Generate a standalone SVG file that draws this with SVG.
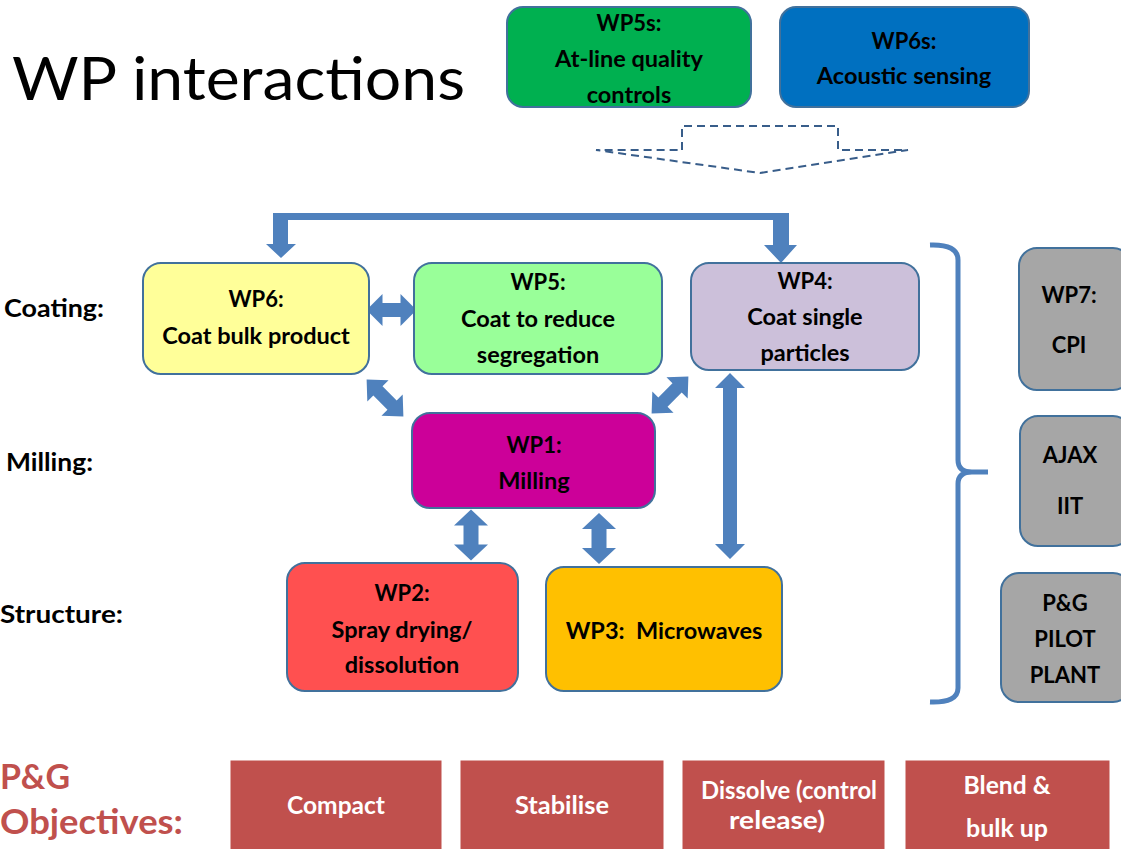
<svg xmlns="http://www.w3.org/2000/svg" width="1121" height="849" viewBox="0 0 1121 849">
<style>
.box{stroke:#41719C;stroke-width:2}
.t{font-family:Lato,"Liberation Sans",sans-serif;font-weight:bold;font-size:22px;fill:#000;text-anchor:middle}
.t2{font-family:Lato,"Liberation Sans",sans-serif;font-weight:bold;font-size:23.5px;fill:#000;text-anchor:middle}
.lbl{font-family:Lato,"Liberation Sans",sans-serif;font-weight:bold;font-size:25px;fill:#000}
.obj{fill:#C0504D;stroke:#C0504D}
.ot{font-family:Lato,"Liberation Sans",sans-serif;font-weight:bold;font-size:24px;fill:#fff;text-anchor:middle}
.arr{fill:#4F81BD}
</style>
<defs>
<path id="dbl50" d="M-25,0 L-9,-16 L-9,-7 L9,-7 L9,-16 L25,0 L9,16 L9,7 L-9,7 L-9,16 Z"/>
<path id="dbl52" d="M-26,0 L-10,-15 L-10,-6.5 L10,-6.5 L10,-15 L26,0 L10,15 L10,6.5 L-10,6.5 L-10,15 Z"/>
<path id="dblv" d="M-25.5,0 L-9.5,-17 L-9.5,-7.5 L9.5,-7.5 L9.5,-17 L25.5,0 L9.5,17 L9.5,7.5 L-9.5,7.5 L-9.5,17 Z"/>
</defs>
<rect width="1121" height="849" fill="#fff"/>

<text x="12" y="100" font-family="Lato,'Liberation Sans',sans-serif" font-size="60" textLength="453" lengthAdjust="spacingAndGlyphs" fill="#000">WP interactions</text>

<g id="wp5s">
<rect class="box" x="507" y="7" width="244" height="100" rx="16" fill="#00B050"/>
<text class="t" x="629" y="31" font-size="20.5">WP5s:</text>
<text class="t2" x="629" y="67" font-size="22.6">At-line quality</text>
<text class="t2" x="629" y="103" font-size="22.6">controls</text>
</g>
<g id="wp6s">
<rect class="box" x="780" y="7" width="249" height="100" rx="16" fill="#0070C0"/>
<text class="t" x="904" y="49" font-size="20.5">WP6s:</text>
<text class="t2" x="904" y="84" font-size="22.6">Acoustic sensing</text>
</g>

<g id="connectors">
<path d="M682,150 V126 H838 V150 H908 L760,173 L596,150 Z" fill="none" stroke="#385D8A" stroke-width="2" stroke-dasharray="8,5"/>
<path class="arr" d="M281,258 L266,244 L273,244 L273,213 L789,213 L789,245 L797,245 L781,263 L764,245 L773,245 L773,220 L288,220 L288,244 L296,244 Z"/>
<use href="#dbl50" class="arr" transform="translate(391.5,310)"/>
<use href="#dbl52" class="arr" transform="translate(385,398) rotate(45)"/>
<use href="#dbl52" class="arr" transform="translate(670,395) rotate(-45)"/>
<use href="#dblv" class="arr" transform="translate(471,535) rotate(90)"/>
<use href="#dblv" class="arr" transform="translate(599,538.5) rotate(90)"/>
<path class="arr" d="M730,373 L745,388 L737,388 L737,544 L745,544 L730,559 L715,544 L723,544 L723,388 L715,388 Z"/>
<path d="M930,245 Q958,244 958,260 V460 Q958,472 972,472 H988 M972,472 Q958,472 958,484 V688 Q958,703 930,702" fill="none" stroke="#4F81BD" stroke-width="5"/>
</g>

<g id="wp6">
<rect class="box" x="143" y="263" width="226" height="111" rx="18" fill="#FFFF99"/>
<text class="t" x="256" y="307">WP6:</text>
<text class="t2" x="256" y="344">Coat bulk product</text>
</g>
<g id="wp5">
<rect class="box" x="414" y="263" width="248" height="111" rx="18" fill="#99FF99"/>
<text class="t" x="538" y="290">WP5:</text>
<text class="t2" x="538" y="327">Coat to reduce</text>
<text class="t2" x="538" y="363">segregation</text>
</g>
<g id="wp4">
<rect class="box" x="691" y="263" width="228" height="107" rx="18" fill="#CCC0DA"/>
<text class="t" x="805" y="289">WP4:</text>
<text class="t2" x="805" y="325">Coat single</text>
<text class="t2" x="805" y="361">particles</text>
</g>
<g id="wp1">
<rect class="box" x="412" y="413" width="243" height="95" rx="18" fill="#CC0099"/>
<text class="t" x="534" y="453">WP1:</text>
<text class="t2" x="534" y="489">Milling</text>
</g>
<g id="wp2">
<rect class="box" x="287" y="563" width="231" height="128" rx="18" fill="#FF5050"/>
<text class="t" x="402" y="601">WP2:</text>
<text class="t2" x="402" y="638">Spray drying/</text>
<text class="t2" x="402" y="673">dissolution</text>
</g>
<g id="wp3">
<rect class="box" x="546" y="567" width="236" height="124" rx="18" fill="#FFC000"/>
<text class="t2" x="664" y="639" xml:space="preserve">WP3:  Microwaves</text>
</g>
<g id="wp7">
<rect class="box" x="1019" y="248" width="112" height="142" rx="18" fill="#A6A6A6"/>
<text class="t" x="1069" y="303">WP7:</text>
<text class="t" x="1069" y="353">CPI</text>
</g>
<g id="ajax">
<rect class="box" x="1020" y="416" width="111" height="130" rx="18" fill="#A6A6A6"/>
<text class="t" x="1070" y="463">AJAX</text>
<text class="t" x="1070" y="514">IIT</text>
</g>
<g id="pilot">
<rect class="box" x="1001" y="573" width="130" height="129" rx="18" fill="#A6A6A6"/>
<text class="t" x="1065" y="611">P&amp;G</text>
<text class="t" x="1065" y="647">PILOT</text>
<text class="t" x="1065" y="683">PLANT</text>
</g>

<g id="rowlabels">
<text class="lbl" x="4" y="317" textLength="100" lengthAdjust="spacingAndGlyphs">Coating:</text>
<text class="lbl" x="6" y="471" textLength="87" lengthAdjust="spacingAndGlyphs">Milling:</text>
<text class="lbl" x="0" y="623" textLength="123" lengthAdjust="spacingAndGlyphs">Structure:</text>
</g>

<g id="objectives">
<text x="0" y="789" font-family="Lato,'Liberation Sans',sans-serif" font-weight="bold" font-size="34" fill="#C0504D" textLength="70" lengthAdjust="spacingAndGlyphs">P&amp;G</text>
<text x="0" y="834" font-family="Lato,'Liberation Sans',sans-serif" font-weight="bold" font-size="34" fill="#C0504D" textLength="183" lengthAdjust="spacingAndGlyphs">Objectives:</text>
</g>
<g id="compact">
<rect class="obj" x="231" y="761" width="210" height="92"/>
<text class="ot" x="336" y="814" textLength="98" lengthAdjust="spacingAndGlyphs">Compact</text>
</g>
<g id="stabilise">
<rect class="obj" x="461" y="761" width="202" height="92"/>
<text class="ot" x="562" y="814" textLength="94" lengthAdjust="spacingAndGlyphs">Stabilise</text>
</g>
<g id="dissolve">
<rect class="obj" x="683" y="761" width="201" height="92"/>
<text class="ot" x="789" y="799" textLength="176" lengthAdjust="spacingAndGlyphs">Dissolve (control</text>
<text class="ot" x="777" y="829" textLength="96" lengthAdjust="spacingAndGlyphs">release)</text>
</g>
<g id="blend">
<rect class="obj" x="906" y="761" width="203" height="92"/>
<text class="ot" x="1007" y="794" textLength="87" lengthAdjust="spacingAndGlyphs">Blend &amp;</text>
<text class="ot" x="1007" y="837" textLength="82" lengthAdjust="spacingAndGlyphs">bulk up</text>
</g>
</svg>
